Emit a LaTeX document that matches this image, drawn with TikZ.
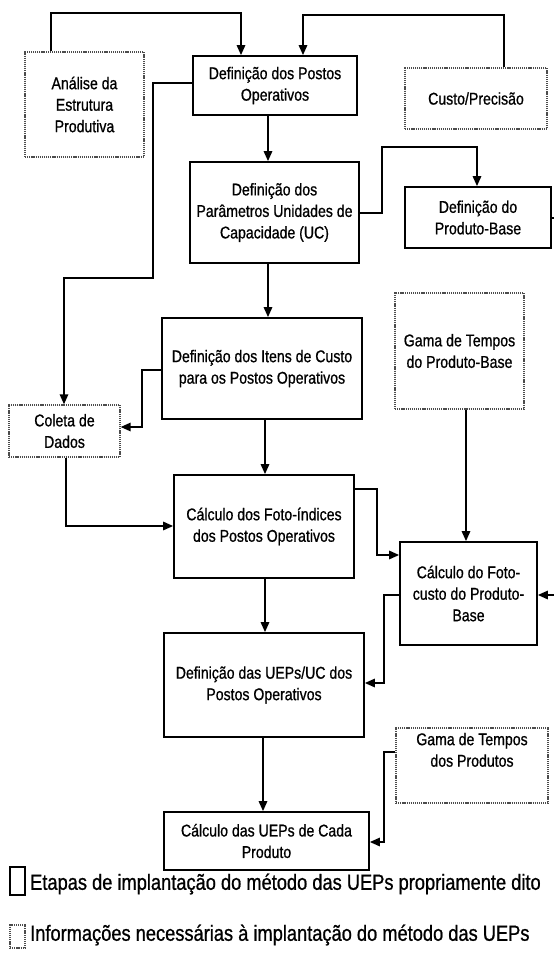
\documentclass[tikz,border=0pt]{standalone}
\usepackage{fontspec}
\setmainfont{Liberation Sans}[FakeStretch=0.83,FakeBold=0.8]
\usetikzlibrary{arrows.meta}
\begin{document}
\begin{tikzpicture}[x=1pt,y=-1pt,
  stage/.style={draw=black, line width=1.8pt, rectangle, inner sep=0pt, align=center,
    font=\fontsize{17}{21.5}\selectfont},
  info/.style={draw=black!70, line width=1.4pt, dash pattern=on 1.2pt off 0.9pt, rectangle,
    inner sep=0pt, align=center, font=\fontsize{17}{21.5}\selectfont},
  conn/.style={line width=1.6pt, draw=black},
  arr/.style={conn, -{Triangle[length=10pt,width=8.5pt]}},
  legtext/.style={anchor=west, inner sep=0pt, font=\fontsize{22}{26}\selectfont}]
\useasboundingbox (0,0) rectangle (554,962);
\fill[white] (0,0) rectangle (554,962);

% process steps (solid)
\node[stage, minimum width=164pt, minimum height=59pt] (pos) at (275,85.5) {Definição dos Postos\\Operativos};
\node[stage, minimum width=169pt, minimum height=101pt] (par) at (274.5,212.5) {Definição dos\\Parâmetros Unidades de\\Capacidade (UC)};
\node[stage, minimum width=146pt, minimum height=61pt] (pb) at (478,217.5) {Definição do\\Produto-Base};
\node[stage, minimum width=200pt, minimum height=101pt] (ite) at (262,368.5) {Definição dos Itens de Custo\\para os Postos Operativos};
\node[stage, minimum width=180pt, minimum height=103pt] (fot) at (264,526.5) {Cálculo dos Foto-índices\\dos Postos Operativos};
\node[stage, minimum width=137pt, minimum height=103pt] (fcu) at (468.5,593.5) {Cálculo do Foto-\\custo do Produto-\\Base};
\node[stage, minimum width=200pt, minimum height=104pt] (uep) at (264,685) {Definição das UEPs/UC dos\\Postos Operativos};
\node[stage, minimum width=205pt, minimum height=58pt] (cal) at (266.5,841) {Cálculo das UEPs de Cada\\Produto};

% information (dotted)
\node[info, minimum width=119pt, minimum height=105pt] (ana) at (84.5,104.5) {Análise da\\Estrutura\\Produtiva};
\node[info, minimum width=142pt, minimum height=61pt] (cus) at (476,98.5) {Custo/Precisão};
\node[info, minimum width=111pt, minimum height=52pt] (col) at (64.5,431) {Coleta de\\Dados};
\node[info, minimum width=129pt, minimum height=116pt] (gpb) at (459.5,351) {Gama de Tempos\\do Produto-Base};
\node[info, minimum width=152pt, minimum height=75pt] (gpr) at (472,765.5) {Gama de Tempos\\dos Produtos\\[10pt]};

% junction points
\coordinate (a1) at (51,13);   \coordinate (a2) at (241,13);
\coordinate (b1) at (504,15);  \coordinate (b2) at (303,15);
\coordinate (c1) at (153,83);  \coordinate (c2) at (153,278); \coordinate (c3) at (64,278);
\coordinate (v1) at (268,0);
\coordinate (d1) at (382,213); \coordinate (d2) at (382,147); \coordinate (d3) at (477,147);
\coordinate (e1) at (142,370); \coordinate (e2) at (142,427);
\coordinate (v2) at (265,0);
\coordinate (f1) at (66,526);
\coordinate (g1) at (377,489); \coordinate (g2) at (377,555);
\coordinate (h1) at (466,0);
\coordinate (k1) at (554,595);
\coordinate (k2) at (554,218);
\coordinate (m1) at (384,595); \coordinate (m2) at (384,683);
\coordinate (v3) at (263,0);
\coordinate (n1) at (384,752); \coordinate (n2) at (384,842);

% connectors
\draw[arr] (ana.north -| a1) -- (a1) -- (a2) -- (pos.north -| a2);
\draw[arr] (cus.north -| b1) -- (b1) -- (b2) -- (pos.north -| b2);
\draw[arr] (pos.west |- c1) -- (c1) -- (c2) -- (c3) -- (col.north -| c3);
\draw[arr] (pos.south -| v1) -- (par.north -| v1);
\draw[arr] (par.east |- d1) -- (d1) -- (d2) -- (d3) -- (pb.north -| d3);
\draw[arr] (par.south -| v1) -- (ite.north -| v1);
\draw[arr] (ite.west |- e1) -- (e1) -- (e2) -- (col.east |- e2);
\draw[arr] (ite.south -| v2) -- (fot.north -| v2);
\draw[arr] (col.south -| f1) -- (f1) -- (fot.west |- f1);
\draw[arr] (fot.east |- g1) -- (g1) -- (g2) -- (fcu.west |- g2);
\draw[arr] (gpb.south -| h1) -- (fcu.north -| h1);
\draw[arr] (k1) -- (fcu.east |- k1);
\draw[conn] (pb.east |- k2) -- (k2);
\draw[arr] (fcu.west |- m1) -- (m1) -- (m2) -- (uep.east |- m2);
\draw[arr] (fot.south -| v2) -- (uep.north -| v2);
\draw[arr] (uep.south -| v3) -- (cal.north -| v3);
\draw[arr] (gpr.west |- n1) -- (n1) -- (n2) -- (cal.east |- n2);

% legend
\node[stage, minimum width=15pt, minimum height=28pt] (ls) at (17.5,881) {};
\node[info, minimum width=15pt, minimum height=23pt] (li) at (17.5,936.5) {};
\node[legtext] (lt1) at (30,884) {Etapas de implantação do método das UEPs propriamente dito};
\node[legtext] (lt2) at (30,935) {Informações necessárias à implantação do método das UEPs};
\end{tikzpicture}
\end{document}
